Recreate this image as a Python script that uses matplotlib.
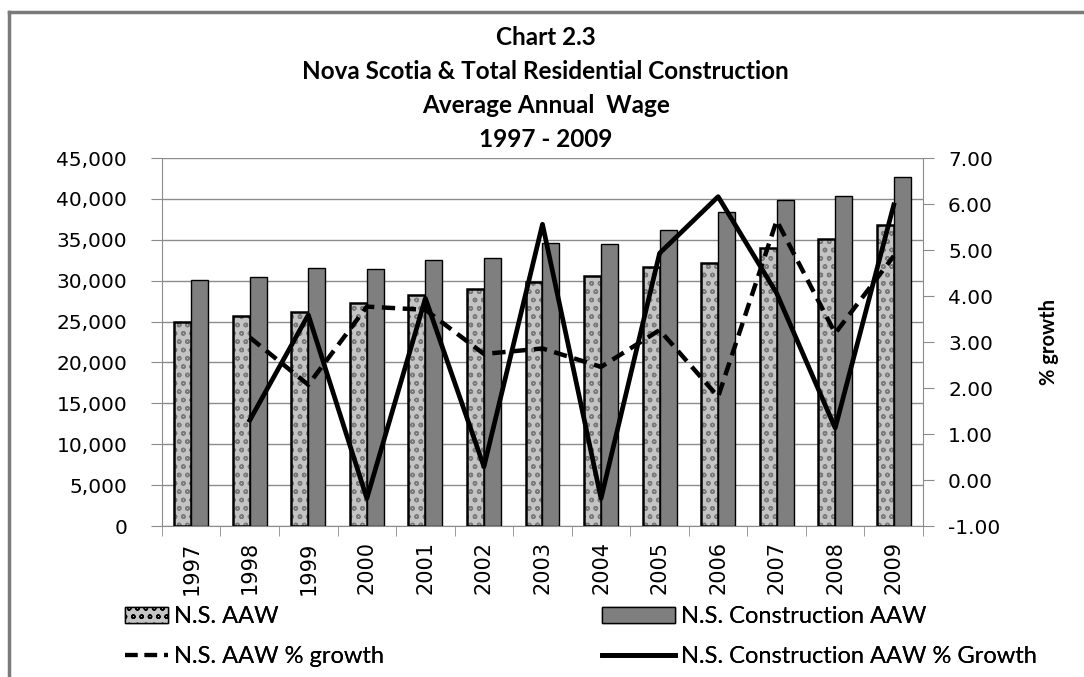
import numpy as np
import matplotlib
matplotlib.use("Agg")
import matplotlib.pyplot as plt
from matplotlib.patches import Patch
from matplotlib.lines import Line2D

years = ["1997", "1998", "1999", "2000", "2001", "2002", "2003",
         "2004", "2005", "2006", "2007", "2008", "2009"]
ns_aaw = [24900, 25700, 26200, 27300, 28250, 29000, 29900,
          30600, 31650, 32150, 34050, 35050, 36750]
cons_aaw = [30100, 30500, 31550, 31400, 32550, 32750, 34550,
            34450, 36150, 38350, 39900, 40300, 42700]
# growth series start in 1998
ns_growth = [3.10, 2.07, 3.77, 3.70, 2.74, 2.86, 2.46,
             3.26, 1.81, 5.64, 3.19, 4.87]
cons_growth = [1.30, 3.59, -0.40, 3.95, 0.29, 5.56, -0.40,
               4.93, 6.16, 4.06, 1.13, 5.98]

title = "Chart 2.3\nNova Scotia & Total Residential Construction\nAverage Annual  Wage\n1997 - 2009"

fig = plt.figure(figsize=(10.84, 6.77), dpi=100)
ax = fig.add_axes([0.1494, 0.2230, 0.7021, 0.5436])
ax2 = ax.twinx()

x = np.arange(len(years))
w = 0.29
grid_c = "#8c8c8c"

# mottled bars: gray fill with darker hatch, then black outline
ax.bar(x - w / 2, ns_aaw, w, color="#c4c4c4", hatch="oo", edgecolor="#7a7a7a",
       linewidth=0, zorder=2)
ax.bar(x - w / 2, ns_aaw, w, facecolor="none", edgecolor="black",
       linewidth=1.8, zorder=3)
ax.bar(x + w / 2, cons_aaw, w, color="#7f7f7f", edgecolor="black",
       linewidth=1.0, zorder=3)

ax2.plot(x[1:], ns_growth, color="black", lw=3.2, ls=(0, (3, 1.7)))
ax2.plot(x[1:], cons_growth, color="black", lw=3.4)

ax.set_xlim(-0.5, len(years) - 0.5)
ax.set_ylim(0, 45000)
ax.set_yticks(np.arange(0, 45001, 5000))
ax.set_yticklabels([f"{v:,}" for v in range(0, 45001, 5000)])
ax.yaxis.grid(True, color=grid_c, lw=1.0)
ax.set_axisbelow(True)
ax2.set_ylim(-1, 7)
ax2.set_yticks(np.arange(-1, 7.01, 1))
ax2.set_yticklabels([f"{v:.2f}" for v in np.arange(-1, 7.01, 1)])

ax.set_xticks(x)
ax.set_xticklabels(years, rotation=90)
ax.set_xticks(np.arange(-0.5, len(years)), minor=True)
ax.tick_params(axis="x", which="major", length=0, pad=11, labelsize=15)
ax.tick_params(axis="x", which="minor", length=7, color=grid_c, direction="out")
ax.tick_params(axis="y", length=8, color=grid_c, labelsize=14.5, pad=17)
ax2.tick_params(axis="y", length=8, color=grid_c, labelsize=14.5, pad=10)

for a in (ax, ax2):
    for s in a.spines.values():
        s.set_visible(False)
ax.spines["left"].set_visible(True)
ax.spines["left"].set_color(grid_c)
ax.spines["bottom"].set_visible(True)
ax.spines["bottom"].set_color(grid_c)
ax2.spines["right"].set_visible(True)
ax2.spines["right"].set_color(grid_c)

ax2.set_ylabel("% growth", fontsize=14.5, fontweight="bold", family="Lato", labelpad=28)

fig.text(0.5035, 0.962, title, ha="center", va="top", fontsize=17.5,
         fontweight="bold", family="Lato", linespacing=1.58)

# legend entries placed one by one
handles = [Patch(facecolor="#c4c4c4", edgecolor="black", hatch="oo"),
           Patch(facecolor="#7f7f7f", edgecolor="black"),
           Line2D([], [], color="black", lw=3, ls=(0, (3, 1.7))),
           Line2D([], [], color="black", lw=3.4)]
labels = ["N.S. AAW", "N.S. Construction AAW",
          "N.S. AAW % growth", "N.S. Construction AAW % Growth"]
spots = [(0.115, 0.089, 1.85), (0.555, 0.089, 3.1),
         (0.115, 0.030, 1.85), (0.555, 0.030, 3.1)]
for h, lab, (lx, ly, hl) in zip(handles, labels, spots):
    leg = fig.legend([h], [lab], loc="center left", bbox_to_anchor=(lx, ly),
                     frameon=False, prop={"family": "Lato", "size": 17},
                     handlelength=hl, handletextpad=0.25, borderpad=0,
                     borderaxespad=0)
    fig.add_artist(leg)

# partial gray frame around the chart
fig.add_artist(Line2D([0.0085, 0.0085], [0, 0.983], color="#7a7a7a", lw=2.5,
                      transform=fig.transFigure))
fig.add_artist(Line2D([0.0085, 1.0], [0.983, 0.983], color="#7a7a7a", lw=2.5,
                      transform=fig.transFigure))

fig.savefig("out.png", dpi=100)
